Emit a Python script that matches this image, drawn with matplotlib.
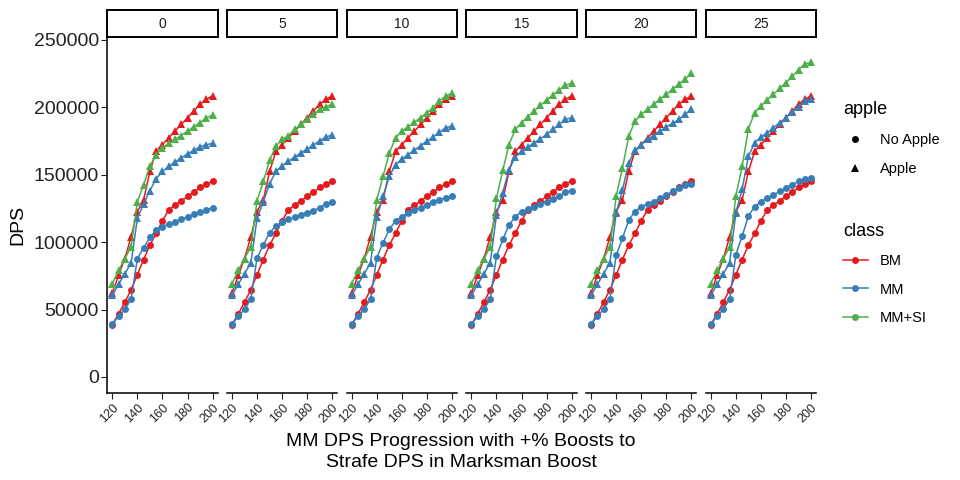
import matplotlib
matplotlib.use('Agg')
import matplotlib.pyplot as plt
from matplotlib.lines import Line2D

RED = '#E41A1C'
BLUE = '#377EB8'
GREEN = '#4DAF4A'
DARK = '#222222'

plt.rcParams['font.family'] = ['Liberation Sans', 'DejaVu Sans']

boosts = [0, 5, 10, 15, 20, 25]
mastery = [120, 125, 130, 135, 140, 145, 150, 155, 160, 165, 170, 175, 180, 185, 190, 195, 200]
x_ticks = [120, 140, 160, 180, 200]
y_ticks = [0, 50000, 100000, 150000, 200000, 250000]

# BM is not affected by the Strafe boost, same line in every panel
bm_no_apple = [38800, 46800, 55500, 64700, 75900, 87100, 97800, 106500, 115900, 123900,
               127600, 130600, 133900, 137100, 140600, 143300, 145100]
bm_apple = [62200, 75400, 87800, 104000, 122700, 131400, 152500, 167400, 172400, 177400,
            182400, 187300, 192300, 197300, 202300, 206000, 208500]

# one row per boost panel
mm_no_apple = [
    [39300, 45000, 50300, 57700, 87800, 96000, 103500, 109000, 111500, 113500, 115200, 116900, 118900, 120700, 122200, 123900, 125600],
    [39300, 45000, 50300, 57700, 88600, 97800, 107000, 112000, 115200, 116900, 118400, 120200, 121900, 123400, 125600, 128400, 129900],
    [39300, 45000, 50300, 57700, 88600, 99500, 109500, 115900, 118900, 121400, 123900, 125600, 127600, 129600, 131400, 133100, 134400],
    [39300, 45000, 50300, 57700, 89600, 102000, 112700, 118900, 122700, 124400, 126400, 128400, 130100, 131900, 133900, 137100, 138300],
    [39300, 45000, 50300, 57700, 90300, 102800, 116400, 122700, 126400, 128400, 130100, 132600, 135100, 137600, 140100, 142600, 143300],
    [39300, 45000, 50300, 57700, 90800, 104500, 119400, 126400, 130100, 132600, 135100, 137600, 140100, 142600, 145100, 146800, 147500],
]
mm_apple = [
    [60500, 68700, 76600, 84600, 117700, 128400, 138300, 147000, 152500, 156200, 159500, 162500, 165500, 168200, 170700, 172400, 173200],
    [60500, 68700, 76600, 84600, 117700, 130100, 143300, 152500, 156700, 160000, 163200, 166200, 169200, 172200, 175200, 178100, 179600],
    [60500, 68700, 76600, 84600, 118400, 133900, 148800, 157500, 161700, 165000, 168200, 171700, 174900, 178100, 181600, 184900, 186100],
    [60500, 68700, 76600, 84600, 120200, 136800, 153800, 163200, 167400, 170700, 173700, 176600, 179900, 183600, 187300, 191100, 192300],
    [60500, 68700, 76600, 84600, 121400, 138800, 158700, 168200, 172400, 176200, 179100, 182400, 185600, 188100, 191100, 194800, 198500],
    [60500, 68700, 76600, 84600, 121900, 139300, 163700, 173700, 178100, 181100, 184900, 188600, 192300, 196600, 200500, 204800, 206000],
]
mmsi_apple = [
    [69200, 79100, 87800, 96500, 130100, 142600, 156200, 165000, 169900, 173200, 176200, 179100, 182400, 185600, 188600, 192300, 194300],
    [69200, 79100, 87800, 96500, 130900, 145100, 160700, 171200, 176200, 179100, 183600, 187300, 191100, 194800, 198500, 200500, 202300],
    [69200, 79100, 87800, 96500, 131400, 148800, 166200, 177400, 182400, 185600, 189100, 192300, 196100, 199800, 204800, 208500, 210500],
    [69200, 79100, 87800, 96500, 132600, 153300, 172400, 183600, 188600, 193100, 197300, 201500, 205500, 209000, 213000, 216500, 217900],
    [69200, 79100, 87800, 96500, 133900, 155000, 178600, 189800, 194800, 198500, 202300, 206000, 209700, 213500, 217200, 220900, 225400],
    [69200, 79100, 87800, 96500, 134400, 156200, 184100, 196100, 201000, 205500, 209700, 214000, 218400, 222900, 227900, 232100, 233400],
]

W, H = 960, 480
fig = plt.figure(figsize=(9.6, 4.8), dpi=100)
fig.patch.set_facecolor('#FFFFFF')

line_kw = dict(linewidth=1.1)
circ_kw = dict(marker='o', markersize=5.0, markeredgewidth=0)
tri_kw = dict(marker='^', markersize=6.4, markeredgewidth=0)

for i, b in enumerate(boosts):
    left = 107.3 + 119.7 * i
    ax = fig.add_axes([left / W, 87 / H, 110.3 / W, 356 / H])
    ax.set_facecolor('#FFFFFF')

    ax.plot(mastery, bm_no_apple, color=RED, **line_kw, **circ_kw)
    ax.plot(mastery, bm_apple, color=RED, **line_kw, **tri_kw)
    ax.plot(mastery, mm_no_apple[i], color=BLUE, **line_kw, **circ_kw)
    ax.plot(mastery, mm_apple[i], color=BLUE, **line_kw, **tri_kw)
    ax.plot(mastery, mmsi_apple[i], color=GREEN, **line_kw, **tri_kw)

    ax.set_xlim(116, 204)
    ax.set_ylim(-11900, 252200)
    ax.set_xticks(x_ticks)
    ax.set_xticklabels([str(t) for t in x_ticks], rotation=45, ha='right',
                       rotation_mode='anchor', fontsize=9, color=DARK)
    ax.tick_params(axis='x', length=4, width=0.8, colors=DARK, pad=2)
    ax.spines['top'].set_visible(False)
    ax.spines['right'].set_visible(False)
    ax.spines['bottom'].set_linewidth(1.1)
    ax.spines['bottom'].set_color('black')
    if i == 0:
        ax.set_yticks(y_ticks)
        ax.set_yticklabels([str(t) for t in y_ticks], fontsize=14, color=DARK)
        ax.tick_params(axis='y', length=4, width=0.8, colors=DARK, pad=2)
        ax.spines['left'].set_linewidth(1.1)
        ax.spines['left'].set_color('black')
    else:
        ax.set_yticks([])
        ax.spines['left'].set_visible(False)

    # facet strip
    sax = fig.add_axes([left / W, 443 / H, 110.3 / W, 27 / H])
    sax.set_xticks([])
    sax.set_yticks([])
    for sp in sax.spines.values():
        sp.set_linewidth(1.4)
        sp.set_color('black')
    sax.text(0.5, 0.5, str(b), ha='center', va='center', fontsize=10, color='#1A1A1A',
             transform=sax.transAxes)

fig.text(18 / W, 1 - 225 / H, 'DPS', rotation=90, ha='center', va='center', fontsize=14, color='black')
fig.text(461 / W, 1 - 452 / H, 'MM DPS Progression with +% Boosts to\nStrafe DPS in Marksman Boost',
         ha='center', va='center', fontsize=14, color='black', linespacing=1.32)

apple_handles = [
    Line2D([], [], color='black', linestyle='None', marker='o', markersize=5.0, markeredgewidth=0),
    Line2D([], [], color='black', linestyle='None', marker='^', markersize=6.4, markeredgewidth=0),
]
fig.legend(apple_handles, ['No Apple', 'Apple'], title='apple', loc='upper left',
           bbox_to_anchor=(843 / W, 1 - 101 / H), frameon=False, fontsize=10.5,
           title_fontsize=13, handlelength=1.7, handletextpad=0.85, labelspacing=1.02,
           borderpad=0, borderaxespad=0, alignment='left')

class_handles = [
    Line2D([], [], color=RED, linewidth=1.1, marker='o', markersize=5.0, markeredgewidth=0),
    Line2D([], [], color=BLUE, linewidth=1.1, marker='o', markersize=5.0, markeredgewidth=0),
    Line2D([], [], color=GREEN, linewidth=1.1, marker='o', markersize=5.0, markeredgewidth=0),
]
fig.legend(class_handles, ['BM', 'MM', 'MM+SI'], title='class', loc='upper left',
           bbox_to_anchor=(843 / W, 1 - 223 / H), frameon=False, fontsize=10.5,
           title_fontsize=13, handlelength=1.7, handletextpad=0.85, labelspacing=0.98,
           borderpad=0, borderaxespad=0, alignment='left')

fig.savefig('out.png', dpi=100, facecolor='#FFFFFF')
plt.close(fig)
